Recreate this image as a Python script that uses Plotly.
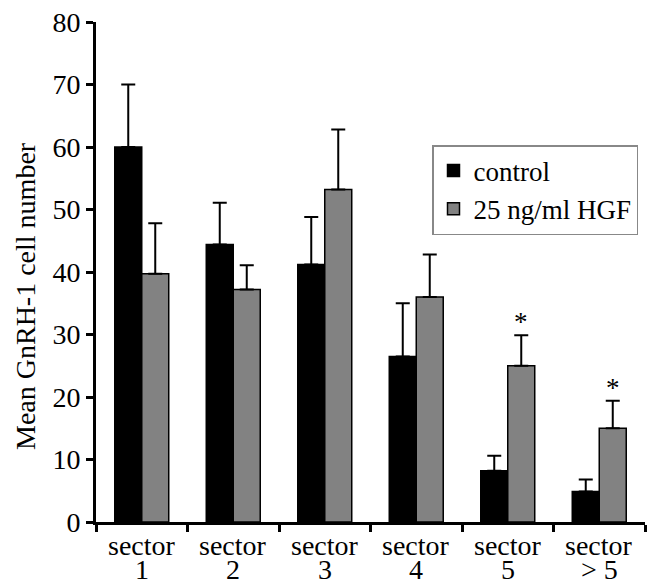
import plotly.graph_objects as go

sectors = ["sector 1", "sector 2", "sector 3", "sector 4", "sector 5", "sector >5"]
tick_top = ["sector"] * 6
tick_bottom = ["1", "2", "3", "4", "5", "> 5"]

control_mean = [60.0, 44.4, 41.2, 26.5, 8.2, 4.9]
control_top = [70.0, 51.1, 48.8, 35.0, 10.6, 6.8]
hgf_mean = [39.7, 37.2, 53.2, 36.0, 25.0, 15.0]
hgf_top = [47.8, 41.1, 62.8, 42.8, 29.9, 19.4]
significant = ["", "", "", "", "*", "*"]

FONT = "Liberation Serif"
BARGAP = 0.41
W, H = 647, 582
L, R, T, B = 96, 2, 22, 60
plot_w = W - L - R
plot_h = H - T - B

fig = go.Figure()
fig.add_trace(go.Bar(
    x=sectors, y=control_mean, name="control",
    marker=dict(color="black", line=dict(color="black", width=1.5)),
    error_y=dict(type="data", symmetric=False,
                 array=[t - m for t, m in zip(control_top, control_mean)],
                 arrayminus=[0] * 6, color="black", thickness=2, width=7),
))
fig.add_trace(go.Bar(
    x=sectors, y=hgf_mean, name="25 ng/ml HGF",
    marker=dict(color="#828282", line=dict(color="black", width=1.5)),
    error_y=dict(type="data", symmetric=False,
                 array=[t - m for t, m in zip(hgf_top, hgf_mean)],
                 arrayminus=[0] * 6, color="black", thickness=2, width=7),
))

annotations = []
for i, (a, b) in enumerate(zip(tick_top, tick_bottom)):
    annotations.append(dict(x=sectors[i], y=0, xref="x", yref="y", text=a,
                            showarrow=False, yanchor="middle", yshift=-23,
                            font=dict(family=FONT, size=28, color="black")))
    annotations.append(dict(x=sectors[i], y=0, xref="x", yref="y", text=b,
                            showarrow=False, yanchor="middle", yshift=-47,
                            font=dict(family=FONT, size=28, color="black")))
offset = (1 - BARGAP) / 4
for i, s in enumerate(significant):
    if s:
        annotations.append(dict(x=i + offset, y=hgf_top[i], xref="x", yref="y",
                                text=s, showarrow=False, yanchor="bottom", yshift=-4,
                                font=dict(family=FONT, size=27, color="black")))
annotations.append(dict(x=(25 - L) / plot_w, y=(H - B - 296) / plot_h,
                        xref="paper", yref="paper",
                        text="Mean GnRH-1 cell number", showarrow=False,
                        textangle=-90, xanchor="center", yanchor="middle",
                        font=dict(family=FONT, size=28, color="black")))

fig.update_layout(
    width=W, height=H,
    margin=dict(l=L, r=R, t=T, b=B),
    paper_bgcolor="white", plot_bgcolor="white",
    barmode="group", bargap=BARGAP, bargroupgap=0,
    font=dict(family=FONT, size=27, color="black"),
    showlegend=True,
    legend=dict(x=(432 - L) / plot_w, y=(H - B - 145) / plot_h,
                xanchor="left", yanchor="top",
                bgcolor="white", bordercolor="#888888", borderwidth=1.5,
                font=dict(family=FONT, size=27, color="black"),
                tracegroupgap=0, itemwidth=30),
    xaxis=dict(type="category", range=[-0.5, 5.5], showticklabels=False,
               showline=True, linecolor="black", linewidth=3,
               ticks="outside", tickson="boundaries", ticklen=7, tickwidth=3,
               tickcolor="black", showgrid=False, zeroline=False),
    yaxis=dict(range=[0, 80], tickvals=[0, 10, 20, 30, 40, 50, 60, 70, 80],
               showline=True, linecolor="black", linewidth=3,
               ticks="outside", ticklen=7, tickwidth=3, tickcolor="black",
               showgrid=False, zeroline=False,
               tickfont=dict(family=FONT, size=28, color="black")),
    annotations=annotations,
)

fig.write_html("out.html", config={"displayModeBar": False},
               post_script="document.body.style.margin='0';document.body.style.overflow='hidden';")
